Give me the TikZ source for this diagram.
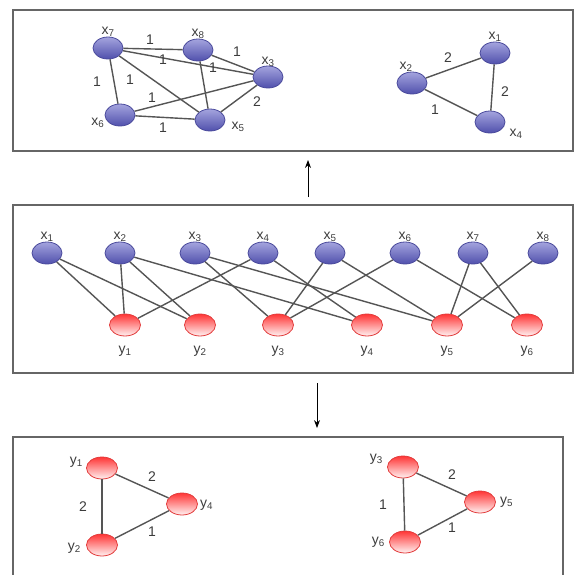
\documentclass[tikz,border=0pt]{standalone}
\usepackage{fontspec}
\setmainfont{Liberation Sans}
\usetikzlibrary{
  arrows.meta,
  shapes.geometric,
  positioning
}
\definecolor{xtop}{HTML}{A4A4DE}
\definecolor{xmid}{HTML}{ECECF9}
\definecolor{xbot}{HTML}{5050AC}
\definecolor{xline}{HTML}{4A4A9C}
\definecolor{ytop}{HTML}{FF3535}
\definecolor{ymid}{HTML}{FFAAAA}
\definecolor{ybot}{HTML}{FFF2F2}
\definecolor{yline}{HTML}{E23C3C}
\definecolor{linkgray}{HTML}{555555}
\definecolor{boxgray}{HTML}{666666}
\definecolor{txtgray}{HTML}{3C3C3C}
\tikzset{
  xnode/.style={
    ellipse, draw=xline, thick, inner sep=0pt,
    minimum width=30pt, minimum height=22pt,
    top color=xtop, middle color=xmid, bottom color=xbot
  },
  ynode/.style={
    ellipse, draw=yline, thick, inner sep=0pt,
    minimum width=31pt, minimum height=22pt,
    top color=ytop, middle color=ymid, bottom color=ybot
  },
  nlbl/.style={
    inner sep=1pt, text=txtgray,
    font=\fontsize{14}{16}\selectfont
  },
  wlbl/.style={
    inner sep=1pt, text=txtgray,
    font=\fontsize{14}{16}\selectfont
  },
  link/.style={draw=linkgray, line width=1.4pt},
  panel/.style={draw=boxgray, line width=1.5pt},
  arrow/.style={-{Stealth[scale=1.2]}, thick}
}

\begin{document}
\begin{tikzpicture}[x=1pt, y=-1pt]
\useasboundingbox (0,0) rectangle (576,574);

% Panels
\draw[panel] (13,10) rectangle (573,151);
\draw[panel] (13,205) rectangle (573,373);
\draw[panel] (13,580) |- (563,437) -- (563,580);

% Projection onto X, first component
\node[xnode] (px7) at (108,48) {};
\node[xnode] (px8) at (198,50) {};
\node[xnode] (px3) at (268,77) {};
\node[xnode] (px6) at (120,115) {};
\node[xnode] (px5) at (210,120) {};
\node[nlbl, above=-1pt of px7] (lpx7) {x\textsubscript{7}};
\node[nlbl, above=-1pt of px8] (lpx8) {x\textsubscript{8}};
\node[nlbl, above=-2pt of px3] (lpx3) {x\textsubscript{3}};
\node[nlbl, left=-1pt of px6, yshift=-8pt] (lpx6) {x\textsubscript{6}};
\node[nlbl, right=5pt of px5, yshift=-7pt] (lpx5) {x\textsubscript{5}};
\draw[link] (px7) -- (px8);
\draw[link] (px7) -- (px3);
\draw[link] (px7) -- (px6);
\draw[link] (px7) -- (px5);
\draw[link] (px8) -- (px3);
\draw[link] (px8) -- (px5);
\draw[link] (px6) -- (px3);
\draw[link] (px6) -- (px5);
\draw[link] (px3) -- (px5);
\node[wlbl] (w78) at (150,40) {1};
\node[wlbl] (w73) at (163,60) {1};
\node[wlbl] (w83) at (237,52) {1};
\node[wlbl] (w85) at (213,68) {1};
\node[wlbl] (w76) at (97,82) {1};
\node[wlbl] (w75) at (130,80) {1};
\node[wlbl] (w63) at (152,98) {1};
\node[wlbl] (w65) at (163,128) {1};
\node[wlbl] (w35) at (257,102) {2};

% Projection onto X, second component
\node[xnode] (px1) at (495,53) {};
\node[xnode] (px2) at (412,83) {};
\node[xnode] (px4) at (490,122) {};
\node[nlbl, above=-1pt of px1] (lpx1) {x\textsubscript{1}};
\node[nlbl, above=-1pt of px2, xshift=-6pt] (lpx2) {x\textsubscript{2}};
\node[nlbl, right=3pt of px4, yshift=-12pt] (lpx4) {x\textsubscript{4}};
\draw[link] (px2) -- (px1);
\draw[link] (px1) -- (px4);
\draw[link] (px2) -- (px4);
\node[wlbl] (w21) at (448,58) {2};
\node[wlbl] (w14) at (505,92) {2};
\node[wlbl] (w24) at (435,110) {1};

% Arrows between panels
\coordinate (upfrom) at (308,197);
\coordinate (upto) at (308,160);
\draw[arrow] (upfrom) -- (upto);
\coordinate (downfrom) at (317,383);
\coordinate (downto) at (317,428);
\draw[arrow] (downfrom) -- (downto);

% Bipartite graph, X row
\node[xnode] (bx1) at (47,253) {};
\node[xnode] (bx2) at (120,253) {};
\node[xnode] (bx3) at (195,253) {};
\node[xnode] (bx4) at (263,253) {};
\node[xnode] (bx5) at (330,253) {};
\node[xnode] (bx6) at (405,253) {};
\node[xnode] (bx7) at (473,253) {};
\node[xnode] (bx8) at (543,253) {};
\node[nlbl, above=-1pt of bx1] (lbx1) {x\textsubscript{1}};
\node[nlbl, above=-1pt of bx2] (lbx2) {x\textsubscript{2}};
\node[nlbl, above=-1pt of bx3] (lbx3) {x\textsubscript{3}};
\node[nlbl, above=-1pt of bx4] (lbx4) {x\textsubscript{4}};
\node[nlbl, above=-1pt of bx5] (lbx5) {x\textsubscript{5}};
\node[nlbl, above=-1pt of bx6] (lbx6) {x\textsubscript{6}};
\node[nlbl, above=-1pt of bx7] (lbx7) {x\textsubscript{7}};
\node[nlbl, above=-1pt of bx8] (lbx8) {x\textsubscript{8}};

% Bipartite graph, Y row
\node[ynode] (by1) at (125,325) {};
\node[ynode] (by2) at (200,325) {};
\node[ynode] (by3) at (278,325) {};
\node[ynode] (by4) at (367,325) {};
\node[ynode] (by5) at (447,325) {};
\node[ynode] (by6) at (527,325) {};
\node[nlbl, below=8pt of by1] (lby1) {y\textsubscript{1}};
\node[nlbl, below=8pt of by2] (lby2) {y\textsubscript{2}};
\node[nlbl, below=8pt of by3] (lby3) {y\textsubscript{3}};
\node[nlbl, below=8pt of by4] (lby4) {y\textsubscript{4}};
\node[nlbl, below=8pt of by5] (lby5) {y\textsubscript{5}};
\node[nlbl, below=8pt of by6] (lby6) {y\textsubscript{6}};

% Bipartite edges
\draw[link] (bx1) -- (by1);
\draw[link] (bx1) -- (by2);
\draw[link] (bx2) -- (by1);
\draw[link] (bx2) -- (by2);
\draw[link] (bx2) -- (by4);
\draw[link] (bx4) -- (by1);
\draw[link] (bx4) -- (by4);
\draw[link] (bx3) -- (by3);
\draw[link] (bx3) -- (by5);
\draw[link] (bx5) -- (by3);
\draw[link] (bx5) -- (by5);
\draw[link] (bx6) -- (by3);
\draw[link] (bx6) -- (by6);
\draw[link] (bx7) -- (by5);
\draw[link] (bx7) -- (by6);
\draw[link] (bx8) -- (by5);

% Projection onto Y, first component
\node[ynode] (qy1) at (102,468) {};
\node[ynode] (qy4) at (182,504) {};
\node[ynode] (qy2) at (102,545) {};
\node[nlbl, left=2pt of qy1, yshift=6pt] (lqy1) {y\textsubscript{1}};
\node[nlbl, right=1pt of qy4, yshift=-1pt] (lqy4) {y\textsubscript{4}};
\node[nlbl, left=4pt of qy2, yshift=-3pt] (lqy2) {y\textsubscript{2}};
\draw[link] (qy1) -- (qy4);
\draw[link] (qy1) -- (qy2);
\draw[link] (qy2) -- (qy4);
\node[wlbl] (v14) at (152,477) {2};
\node[wlbl] (v12) at (83,507) {2};
\node[wlbl] (v24) at (152,532) {1};

% Projection onto Y, second component
\node[ynode] (qy3) at (403,467) {};
\node[ynode] (qy5) at (480,502) {};
\node[ynode] (qy6) at (405,542) {};
\node[nlbl, left=3pt of qy3, yshift=8pt] (lqy3) {y\textsubscript{3}};
\node[nlbl, right=3pt of qy5] (lqy5) {y\textsubscript{5}};
\node[nlbl, left=3pt of qy6] (lqy6) {y\textsubscript{6}};
\draw[link] (qy3) -- (qy5);
\draw[link] (qy3) -- (qy6);
\draw[link] (qy6) -- (qy5);
\node[wlbl] (v35) at (452,475) {2};
\node[wlbl] (v36) at (383,505) {1};
\node[wlbl] (v56) at (452,528) {1};

\end{tikzpicture}
\end{document}
